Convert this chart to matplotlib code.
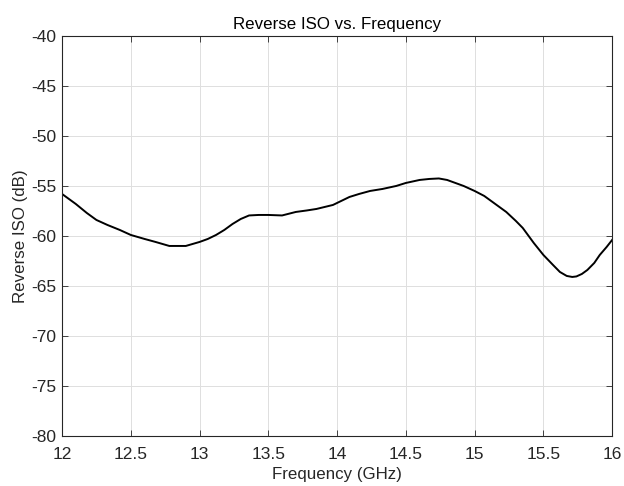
import matplotlib
matplotlib.use("Agg")
import matplotlib.pyplot as plt

# Values
freq_ghz = [12.0, 12.1, 12.18, 12.25, 12.33, 12.42, 12.5, 12.6, 12.68, 12.78,
            12.9, 13.0, 13.06, 13.12, 13.18, 13.24, 13.3, 13.36, 13.43, 13.5,
            13.6, 13.7, 13.78, 13.85, 13.97, 14.03, 14.09, 14.16, 14.24, 14.33,
            14.43, 14.5, 14.6, 14.67, 14.74, 14.8, 14.84, 14.92, 15.0, 15.07,
            15.13, 15.23, 15.3, 15.35, 15.43, 15.5, 15.57, 15.62, 15.67, 15.71,
            15.74, 15.78, 15.82, 15.87, 15.91, 15.96, 16.0]
reverse_iso_db = [-55.8, -56.8, -57.7, -58.4, -58.9, -59.4, -59.9, -60.3, -60.6, -61.0,
                  -61.0, -60.6, -60.3, -59.9, -59.4, -58.8, -58.3, -57.95, -57.9, -57.9,
                  -57.95, -57.6, -57.45, -57.3, -56.9, -56.5, -56.1, -55.8, -55.5, -55.3,
                  -55.0, -54.7, -54.4, -54.3, -54.25, -54.4, -54.6, -55.0, -55.5, -56.0,
                  -56.6, -57.6, -58.5, -59.2, -60.7, -61.9, -62.9, -63.6, -64.0, -64.1,
                  -64.05, -63.8, -63.4, -62.7, -61.9, -61.1, -60.4]

x_ticks = [12, 12.5, 13, 13.5, 14, 14.5, 15, 15.5, 16]
x_tick_labels = ["12", "12.5", "13", "13.5", "14", "14.5", "15", "15.5", "16"]
y_ticks = [-80, -75, -70, -65, -60, -55, -50, -45, -40]

plt.rcParams["font.family"] = ["Liberation Sans", "DejaVu Sans"]
plt.rcParams["axes.unicode_minus"] = False

fig = plt.figure(figsize=(6.24, 4.86), dpi=100)
ax = fig.add_axes([0.0994, 0.103, 0.8816, 0.823])

ax.plot(freq_ghz, reverse_iso_db, color="black", linewidth=1.4)

ax.set_xlim(12, 16)
ax.set_ylim(-80, -40)
ax.set_xticks(x_ticks)
ax.set_xticklabels(x_tick_labels)
ax.set_yticks(y_ticks)

ax.grid(True, color="#dfdfdf", linewidth=0.7)
ax.set_axisbelow(True)
for spine in ax.spines.values():
    spine.set_edgecolor("#262626")
    spine.set_linewidth(0.8)
ax.tick_params(direction="in", top=True, right=True, length=4,
               colors="#262626", labelsize=12.5, width=0.6)
ax.tick_params(axis="x", pad=8)
ax.tick_params(axis="y", pad=4)

ax.set_title("Reverse ISO vs. Frequency", fontsize=12.2, color="black", pad=5)
ax.set_xlabel("Frequency (GHz)", fontsize=12.2, color="#262626", labelpad=3.5)
ax.set_ylabel("Reverse ISO (dB)", fontsize=12.2, color="#262626", labelpad=2)

fig.savefig("out.png", dpi=100, facecolor="white")
plt.close(fig)
